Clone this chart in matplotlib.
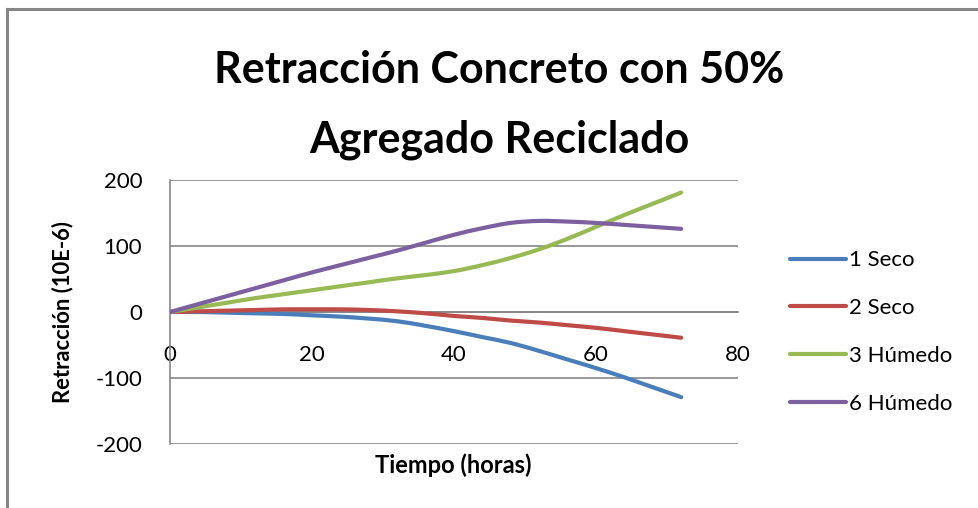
import matplotlib
matplotlib.use("Agg")
import matplotlib.pyplot as plt
from matplotlib.lines import Line2D
from matplotlib.path import Path
from matplotlib.patches import PathPatch

# Shrinkage readings (10E-6) against time in hours
horas = [0, 4, 8, 12, 16, 20, 24, 28, 32, 36, 40, 44, 48, 52, 56, 60, 64, 68, 72]
seco_1 = [0, 0, -1, -2, -3, -5, -7, -10, -14, -21, -29, -38, -47, -59, -72, -85, -99, -114, -129]
seco_2 = [0, 1, 2, 3, 4, 4, 4, 3, 1, -2, -6, -9, -13, -16, -20, -24, -29, -34, -39]
humedo_3 = [0, 7, 14, 21, 27, 33, 39, 45, 51, 56, 62, 71, 82, 95, 111, 129, 147, 164, 181]
humedo_6 = [0, 12, 24, 36, 48, 60, 71, 82, 93, 105, 117, 127, 135, 138, 137, 135, 132, 129, 126]

series_names = ["1 Seco", "2 Seco", "3 Húmedo", "6 Húmedo"]
series_values = [seco_1, seco_2, humedo_3, humedo_6]
series_colors = ["#4A7EBB", "#BE4B48", "#98B954", "#7D60A0"]

x_ticks = [0, 20, 40, 60, 80]
y_ticks = [-200, -100, 0, 100, 200]

title_lines = ["Retracción Concreto con 50%", "Agregado Reciclado"]
x_label = "Tiempo (horas)"
y_label = "Retracción (10E-6)"

plt.rcParams["font.family"] = ["Lato", "DejaVu Sans"]

W, H = 979, 508
fig = plt.figure(figsize=(W / 100, H / 100), dpi=100)
fig.patch.set_facecolor("white")

grid_color = "#868686"


def smooth_path(xs, ys):
    """Cubic Bezier path through the points (smoothed line style)."""
    pts = list(zip(xs, ys))
    n = len(pts)
    verts = [pts[0]]
    codes = [Path.MOVETO]
    for i in range(n - 1):
        p0 = pts[i - 1] if i > 0 else pts[i]
        p1 = pts[i]
        p2 = pts[i + 1]
        p3 = pts[i + 2] if i + 2 < n else pts[i + 1]
        c1 = (p1[0] + (p2[0] - p0[0]) / 6, p1[1] + (p2[1] - p0[1]) / 6)
        c2 = (p2[0] - (p3[0] - p1[0]) / 6, p2[1] - (p3[1] - p1[1]) / 6)
        verts += [c1, c2, p2]
        codes += [Path.CURVE4] * 3
    return Path(verts, codes)


# chart border (top and left edges visible)
fig.add_artist(Line2D([7 / W, 7 / W], [0, 1 - 9 / H], transform=fig.transFigure,
                      color=grid_color, lw=2.2))
fig.add_artist(Line2D([7 / W, 1], [1 - 9 / H, 1 - 9 / H], transform=fig.transFigure,
                      color=grid_color, lw=2.2))

left, right, top, bottom = 170, 738, 180, 444
ax = fig.add_axes([left / W, 1 - bottom / H, (right - left) / W, (bottom - top) / H])

handles = []
for name, vals, col in zip(series_names, series_values, series_colors):
    patch = PathPatch(smooth_path(horas, vals), facecolor="none", edgecolor=col,
                      lw=3.0, capstyle="round", joinstyle="round", zorder=3)
    ax.add_patch(patch)
    handles.append(Line2D([], [], color=col, lw=3.0, solid_capstyle="round", label=name))

ax.set_xlim(0, 80)
ax.set_ylim(-200, 200)
ax.spines["bottom"].set_position(("data", 0))
ax.set_xticks(x_ticks)
ax.set_yticks(y_ticks)
ax.set_xticklabels([str(t) for t in x_ticks])
ax.set_yticklabels([str(t) for t in y_ticks])
ax.tick_params(axis="both", length=0, labelsize=16)
ax.tick_params(axis="x", pad=24)
ax.tick_params(axis="y", pad=20)

ax.yaxis.grid(True, color=grid_color, lw=1.2)
ax.set_axisbelow(True)
for s in ["top", "right"]:
    ax.spines[s].set_visible(False)
ax.spines["left"].set_color(grid_color)
ax.spines["left"].set_linewidth(1.2)
ax.spines["bottom"].set_color(grid_color)
ax.spines["bottom"].set_linewidth(1.2)

fig.text(453 / W, 1 - 465 / H, x_label, ha="center", va="center",
         fontweight="bold", fontsize=17)
fig.text(63 / W, 1 - 312 / H, y_label, ha="center", va="center", rotation=90,
         fontweight="bold", fontsize=15.8)

fig.text(499 / W, 1 - 83 / H, title_lines[0], ha="center", va="baseline",
         fontweight="bold", fontsize=31)
fig.text(499 / W, 1 - 152 / H, title_lines[1], ha="center", va="baseline",
         fontweight="bold", fontsize=31)

ax.legend(handles=handles, loc="center left", bbox_to_anchor=(790 / W, 1 - 332 / H),
          bbox_transform=fig.transFigure, frameon=False,
          prop={"size": 16}, handlelength=2.5, handletextpad=0.15,
          labelspacing=1.25, borderaxespad=0, borderpad=0)

fig.savefig("out.png", dpi=100, facecolor="white")
